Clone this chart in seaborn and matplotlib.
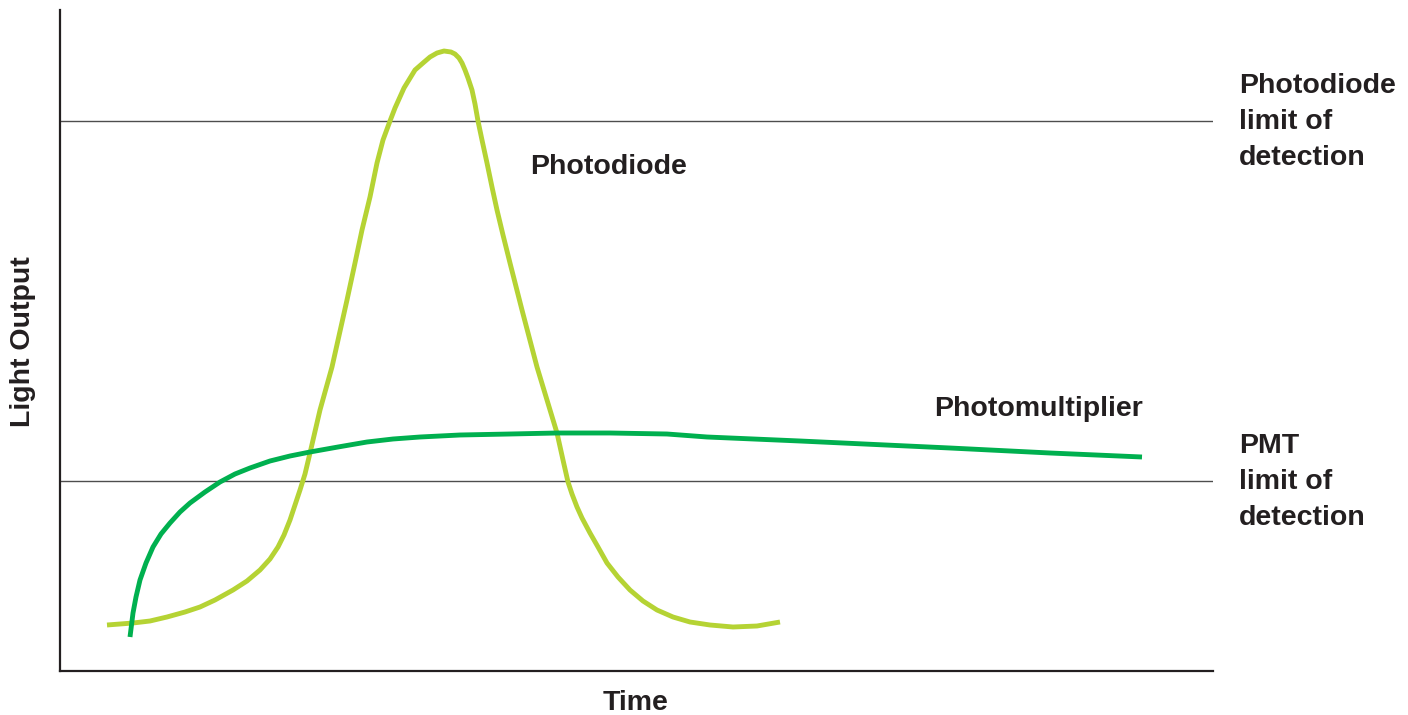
import pandas as pd
import seaborn as sns
import matplotlib.pyplot as plt

# values (arbitrary units)
pd_time = [4.7, 7.3, 9.0, 10.7, 12.5, 14.0, 15.5, 17.3, 18.7, 20.0, 21.0, 21.8, 22.4,
           23.0, 23.5, 24.0, 24.5, 25.0, 26.0, 27.2, 28.7, 29.5, 30.2, 31.0, 31.7, 32.3,
           33.0, 33.5, 34.4, 35.5, 36.3, 37.0, 37.7, 38.4, 39.1, 39.5, 39.9, 40.2, 40.5,
           40.8, 41.2, 41.5, 41.8, 42.2, 42.7, 43.2, 43.7, 44.3, 45.0, 46.2, 47.7, 48.7,
           49.7, 50.3, 50.8, 51.2, 51.7, 52.2, 53.0, 53.8, 54.7, 55.8, 57.0, 58.3, 59.7,
           61.3, 63.0, 65.0, 67.3, 69.7, 72.0]
pd_light = [4.6, 4.8, 5.0, 5.4, 5.9, 6.4, 7.1, 8.1, 9.0, 10.1, 11.2, 12.4, 13.6,
            15.1, 16.6, 18.1, 19.7, 21.8, 26.1, 30.4, 37.1, 40.8, 44.1, 47.4, 50.8, 53.1,
            55.0, 56.3, 58.3, 60.1, 60.8, 61.4, 61.8, 62.0, 61.9, 61.7, 61.3, 60.8, 60.1,
            59.3, 58.1, 56.7, 55.0, 53.1, 50.8, 48.4, 46.1, 43.6, 40.8, 36.1, 30.4, 27.1,
            23.8, 21.1, 18.9, 17.7, 16.4, 15.3, 13.8, 12.4, 10.8, 9.4, 8.1, 7.0, 6.1,
            5.4, 4.9, 4.6, 4.4, 4.5, 4.9]

pmt_time = [7.0, 7.3, 7.6, 8.0, 8.6, 9.3, 10.1, 11.0, 12.0, 13.0, 14.5, 16.0, 17.5,
            19.0, 21.0, 23.0, 25.0, 27.8, 30.7, 33.3, 36.0, 40.0, 45.0, 49.7, 55.0,
            60.7, 64.7, 74.0, 89.0, 99.0, 108.2]
pmt_light = [3.4, 5.8, 7.4, 9.1, 10.8, 12.4, 13.7, 14.8, 15.9, 16.8, 17.9, 18.9, 19.7,
             20.3, 21.0, 21.5, 21.9, 22.4, 22.9, 23.2, 23.4, 23.6, 23.7, 23.8, 23.8,
             23.7, 23.4, 23.0, 22.3, 21.8, 21.4]

photodiode_lod = 55.0
pmt_lod = 19.0

df_pd = pd.DataFrame({"time": pd_time, "light": pd_light})
df_pmt = pd.DataFrame({"time": pmt_time, "light": pmt_light})

sns.set_style("white")
plt.rcParams["font.family"] = ["Liberation Sans", "DejaVu Sans"]

fig = plt.figure(figsize=(14.08, 7.15), dpi=100)
ax = fig.add_axes([60 / 1408, 44 / 715, 1153 / 1408, 661 / 715])

ax.axhline(photodiode_lod, color="#4d4d4d", lw=1.0, zorder=1)
ax.axhline(pmt_lod, color="#4d4d4d", lw=1.0, zorder=1)

line_kw = dict(lw=3.5, solid_capstyle="butt", solid_joinstyle="round", ax=ax)
sns.lineplot(data=df_pd, x="time", y="light", sort=False, color="#b5d334", **line_kw)
sns.lineplot(data=df_pmt, x="time", y="light", sort=False, color="#00b04f", **line_kw)

ax.set_xlim(0, 115.3)
ax.set_ylim(0, 66.1)
ax.set_xticks([])
ax.set_yticks([])
sns.despine(ax=ax)
for s in ["left", "bottom"]:
    ax.spines[s].set_color("#231f20")
    ax.spines[s].set_linewidth(1.6)

ax.set_xlabel("")
ax.set_ylabel("")

txt = dict(fontsize=20.5, fontweight="bold", color="#231f20")
ax.text(47.0, 50.4, "Photodiode", va="center", ha="left", **txt)
ax.text(87.4, 26.2, "Photomultiplier", va="center", ha="left", **txt)
ax.text(117.9, 54.9, "Photodiode\nlimit of\ndetection", va="center", ha="left",
        linespacing=1.5, clip_on=False, **txt)
ax.text(117.9, 18.9, "PMT\nlimit of\ndetection", va="center", ha="left",
        linespacing=1.5, clip_on=False, **txt)

fig.text(23 / 1408, 1 - 342 / 715, "Light Output", rotation=90, va="center", ha="center", **txt)
fig.text(636 / 1408, 1 - 703 / 715, "Time", va="center", ha="center", **txt)

fig.savefig("out.png", dpi=100)
